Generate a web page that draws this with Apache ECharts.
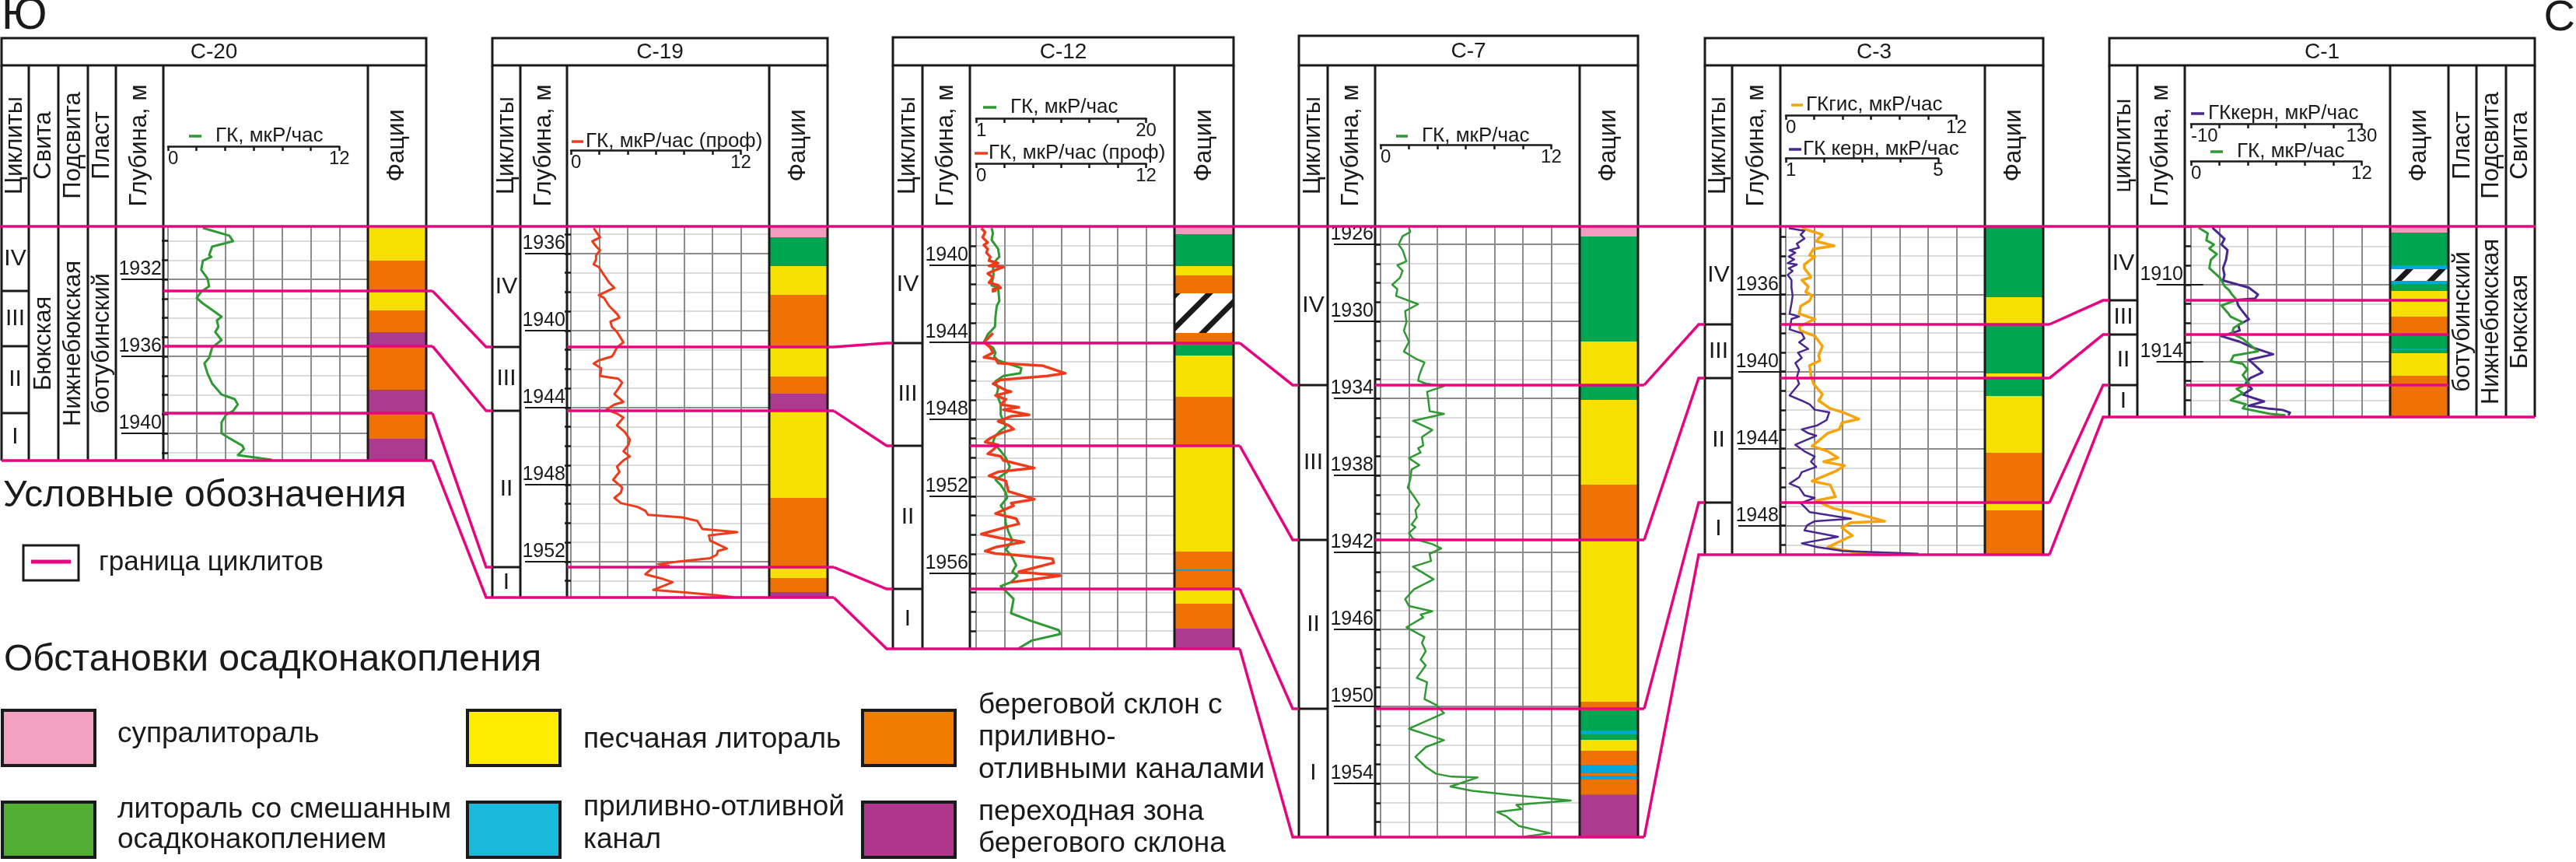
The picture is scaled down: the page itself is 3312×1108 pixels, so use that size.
<!DOCTYPE html>
<html><head><meta charset="utf-8">
<script src="https://cdn.jsdelivr.net/npm/echarts@6/dist/echarts.min.js"></script>
<style>html,body{margin:0;padding:0;background:#fff}#c{width:3312px;height:1108px}</style>
</head><body><div id="c"></div>
<script>
// ================= DATA =================
const wellNames = ['С-20','С-19','С-12','С-7','С-3','С-1'];
const depthTop    = [1929.25, 1934.59, 1937.98, 1925.07, 1932.46, 1906.97];
const depthBottom = [1941.41, 1953.86, 1959.92, 1956.79, 1949.51, 1916.87];
const depthLabels = [
  [1932,1936,1940],
  [1936,1940,1944,1948,1952],
  [1940,1944,1948,1952,1956],
  [1926,1930,1934,1938,1942,1946,1950,1954],
  [1936,1940,1944,1948],
  [1910,1914]
];
const cycliteNames = ['IV','III','II','I'];
const cycliteBounds = [
  [1932.60,1935.47,1938.95],
  [1940.85,1944.17,1952.29],
  [1944.04,1949.37,1956.81],
  [1933.31,1941.35,1950.12],
  [1937.55,1940.34,1946.80],
  [1910.81,1912.59,1915.21]
];
const svitaName = 'Бюкская', podsvitaName = 'Нижнебюкская', plastName = 'ботубинский';

// facies codes: S супралитораль, L литораль со смешанным, P песчаная литораль,
// T приливно-отливной канал, B береговой склон, Z переходная зона, H нет данных (штриховка)
const facies_C20 = [[1929.25,1931.03,'P'],[1931.03,1932.60,'B'],[1932.60,1933.61,'P'],[1933.61,1934.74,'B'],[1934.74,1935.47,'Z'],[1935.47,1937.73,'B'],[1937.73,1938.95,'Z'],[1938.95,1940.28,'B'],[1940.28,1941.41,'Z']];
const facies_C19 = [[1934.59,1935.16,'S'],[1935.16,1936.65,'L'],[1936.65,1938.15,'P'],[1938.15,1940.89,'B'],[1940.89,1942.39,'P'],[1942.39,1943.28,'B'],[1943.28,1944.13,'Z'],[1944.13,1948.69,'P'],[1948.69,1952.33,'B'],[1952.33,1952.85,'P'],[1952.85,1953.58,'B'],[1953.58,1953.86,'Z']];
const facies_C12 = [[1937.98,1938.38,'S'],[1938.38,1940.04,'L'],[1940.04,1940.53,'P'],[1940.53,1941.45,'B'],[1941.45,1943.52,'H'],[1943.52,1944.12,'B'],[1944.12,1944.69,'L'],[1944.69,1946.83,'P'],[1946.83,1949.37,'B'],[1949.37,1954.87,'P'],[1954.87,1955.80,'B'],[1955.80,1955.88,'T'],[1955.88,1956.81,'B'],[1956.81,1957.58,'P'],[1957.58,1958.87,'B'],[1958.87,1959.92,'Z']];
const facies_C7 = [[1925.07,1925.60,'S'],[1925.60,1931.05,'L'],[1931.05,1933.31,'P'],[1933.31,1934.08,'L'],[1934.08,1938.48,'P'],[1938.48,1941.35,'B'],[1941.35,1949.76,'P'],[1949.76,1950.20,'B'],[1950.20,1951.25,'L'],[1951.25,1951.45,'T'],[1951.45,1951.74,'L'],[1951.74,1952.30,'P'],[1952.30,1953.03,'B'],[1953.03,1953.47,'T'],[1953.47,1953.60,'B'],[1953.60,1953.80,'T'],[1953.80,1954.57,'B'],[1954.57,1956.79,'Z']];
const facies_C3 = [[1932.46,1936.14,'L'],[1936.14,1937.55,'P'],[1937.55,1940.10,'L'],[1940.10,1940.30,'P'],[1940.30,1941.27,'L'],[1941.27,1944.22,'P'],[1944.22,1946.80,'B'],[1946.80,1947.21,'P'],[1947.21,1949.51,'B']];
const facies_C1 = [[1906.97,1907.29,'S'],[1907.29,1908.99,'L'],[1908.99,1909.19,'T'],[1909.19,1909.80,'H'],[1909.80,1909.96,'T'],[1909.96,1910.32,'L'],[1910.32,1911.66,'P'],[1911.66,1912.59,'B'],[1912.59,1913.33,'L'],[1913.33,1913.39,'T'],[1913.39,1913.56,'L'],[1913.56,1914.73,'P'],[1914.73,1915.21,'B'],[1915.21,1915.27,'P'],[1915.27,1916.87,'B']];

// GR logs: [value, depth]
const gk_C20 = [[2.44,1929.33],[4.29,1929.73],[4.56,1930.02],[3.09,1930.30],[2.88,1930.74],[3.04,1930.83],[2.44,1931.03],[2.33,1931.51],[2.77,1931.96],[2.88,1932.36],[2.33,1932.64],[2.01,1932.97],[2.44,1933.25],[3.75,1933.94],[3.42,1934.14],[3.53,1934.46],[3.31,1934.74],[3.75,1935.15],[3.09,1935.55],[2.88,1936.08],[2.55,1936.36],[2.77,1936.89],[3.09,1937.41],[3.75,1937.98],[4.67,1938.22],[4.89,1938.50],[4.56,1938.83],[4.07,1939.03],[3.75,1939.43],[3.75,1940.00],[4.18,1940.20],[5.21,1940.64],[5.32,1940.81],[4.89,1941.13],[6.08,1941.25],[7.27,1941.37]];
const gkProf_C19 = [[1.61,1934.68],[2.06,1935.16],[1.51,1935.36],[1.78,1935.63],[2.06,1935.83],[1.78,1936.10],[1.78,1936.30],[1.61,1936.57],[1.97,1936.70],[2.33,1937.11],[2.70,1937.51],[3.07,1937.78],[1.97,1938.16],[2.33,1938.30],[2.70,1938.72],[3.25,1939.13],[3.43,1939.33],[2.79,1939.53],[2.89,1939.80],[3.25,1940.07],[3.71,1940.61],[3.25,1940.88],[3.07,1941.15],[2.89,1941.35],[1.97,1941.55],[1.61,1941.71],[2.15,1941.96],[2.06,1942.36],[3.34,1942.50],[3.62,1942.70],[3.34,1943.03],[3.07,1943.30],[3.71,1943.71],[3.07,1943.84],[2.52,1944.11],[3.25,1944.31],[3.71,1944.52],[3.25,1944.92],[3.80,1945.26],[4.16,1945.66],[4.07,1945.93],[3.71,1946.27],[4.16,1946.54],[3.71,1946.74],[3.25,1947.07],[3.43,1947.34],[2.98,1947.75],[3.62,1948.15],[3.53,1948.42],[3.07,1948.69],[3.53,1948.96],[4.71,1949.16],[5.26,1949.36],[5.44,1949.57],[6.54,1949.63],[7.82,1949.70],[8.92,1949.88],[9.28,1950.31],[11.74,1950.47],[9.74,1950.64],[9.83,1950.91],[11.01,1951.32],[10.38,1951.45],[10.29,1951.65],[9.83,1951.82],[7.63,1951.99],[6.17,1952.13],[6.90,1952.22],[5.81,1952.30],[5.26,1952.66],[6.36,1952.87],[7.18,1953.07],[5.81,1953.47],[8.20,1953.61],[10.22,1953.74],[11.41,1953.84]];
const gk_C12 = [[2.73,1938.07],[2.88,1938.34],[2.73,1938.68],[3.46,1939.15],[3.60,1939.56],[3.31,1939.69],[2.88,1939.96],[2.94,1940.50],[2.73,1941.04],[3.46,1941.17],[3.60,1941.85],[3.31,1942.11],[3.17,1942.65],[3.11,1943.19],[2.30,1943.59],[1.87,1944.00],[2.88,1944.27],[3.17,1944.54],[3.02,1944.74],[3.46,1944.94],[5.19,1945.21],[6.06,1945.34],[5.92,1945.61],[4.04,1945.75],[3.17,1946.02],[3.46,1946.42],[3.31,1946.69],[3.75,1947.23],[3.75,1947.77],[4.32,1948.38],[3.75,1948.58],[3.17,1948.85],[2.88,1949.18],[3.75,1949.65],[4.32,1949.99],[4.76,1950.46],[4.47,1950.73],[3.17,1951.14],[3.75,1951.41],[4.32,1951.81],[4.47,1952.08],[3.75,1952.48],[4.18,1952.75],[4.32,1953.43],[4.61,1953.83],[5.05,1954.30],[4.32,1954.77],[4.90,1955.04],[5.48,1955.58],[5.05,1955.92],[5.63,1956.12],[4.90,1956.46],[3.75,1956.66],[5.19,1957.33],[4.90,1958.07],[7.21,1958.48],[10.25,1958.95],[10.40,1959.15],[7.21,1959.49],[5.77,1959.89]];
const gkProf_C12 = [[0.37,1938.07],[0.64,1938.28],[0.46,1938.55],[0.82,1938.82],[0.55,1938.95],[0.82,1939.15],[0.73,1939.35],[1.00,1939.56],[0.91,1939.76],[1.55,1939.89],[0.91,1940.03],[1.92,1940.09],[1.19,1940.30],[0.82,1940.43],[1.19,1940.63],[0.91,1940.90],[1.55,1941.04],[1.74,1941.17],[1.19,1941.24],[1.37,1941.31],[1.10,1941.37],null,
  [1.19,1943.53],[0.55,1944.00],[1.00,1944.27],[1.19,1944.54],[0.55,1944.78],[1.37,1944.87],[1.55,1945.08],[4.66,1945.21],[6.30,1945.61],[5.02,1945.75],[1.74,1945.95],[1.19,1946.15],[2.10,1946.49],[2.47,1946.56],[1.37,1946.76],[2.10,1946.96],[1.74,1947.23],[3.01,1947.37],[1.92,1947.50],[3.74,1947.77],[2.47,1947.84],[1.55,1948.11],[2.28,1948.31],[2.65,1948.51],[1.74,1948.71],[1.00,1948.98],[0.64,1949.18],[1.55,1949.32],[1.19,1949.59],[0.82,1949.79],[1.74,1949.92],[1.92,1950.13],[4.11,1950.53],[1.55,1950.73],[0.91,1950.93],[2.10,1951.20],[2.28,1951.74],[4.11,1952.15],[2.47,1952.35],[2.65,1952.48],[1.37,1952.89],[2.83,1953.16],[3.01,1953.43],[2.28,1953.56],[0.37,1953.96],[1.74,1954.17],[3.38,1954.37],[1.37,1954.64],[0.64,1954.84],[1.37,1954.97],[2.65,1955.04],[5.39,1955.24],[5.48,1955.45],[3.01,1955.92],[5.94,1956.12],[3.93,1956.32],[2.47,1956.46]];
const gk_C7 = [[2.00,1925.15],[2.09,1925.36],[1.55,1925.58],[1.27,1926.01],[1.55,1926.30],[1.82,1926.88],[1.18,1927.09],[1.55,1927.38],[1.36,1927.74],[0.82,1928.10],[1.18,1928.32],[1.09,1928.68],[2.64,1929.11],[1.73,1929.47],[1.82,1930.05],[1.64,1930.48],[2.00,1931.06],[1.64,1931.57],[2.45,1931.93],[3.09,1932.14],[2.91,1932.43],[2.73,1932.79],[2.64,1933.08],[3.18,1933.23],[4.46,1933.37],[3.27,1933.66],[3.36,1934.09],[3.45,1934.67],[4.46,1934.81],[2.27,1935.17],[3.64,1935.64],[2.91,1936.01],[3.00,1936.45],[2.64,1936.59],[2.82,1936.81],[2.00,1937.11],[2.73,1937.47],[2.18,1937.69],[2.09,1938.20],[1.91,1938.64],[2.27,1939.01],[2.73,1939.52],[2.45,1939.81],[2.55,1940.18],[2.18,1940.55],[2.45,1940.69],[2.00,1940.99],[2.27,1941.28],[3.64,1941.57],[4.27,1941.79],[3.45,1942.08],[3.55,1942.45],[2.27,1942.74],[3.73,1943.40],[2.36,1943.91],[1.73,1944.43],[2.00,1944.79],[3.64,1945.06],[2.82,1945.23],[3.00,1945.38],[1.82,1945.89],[3.09,1946.40],[2.91,1946.70],[3.18,1947.13],[2.82,1947.57],[3.18,1947.87],[2.55,1948.52],[3.27,1948.74],[3.09,1949.62],[3.91,1949.92],[4.46,1950.35],[2.00,1951.16],[4.46,1951.75],[3.18,1952.11],[2.45,1952.62],[3.18,1953.14],[3.91,1953.50],[5.00,1953.65],[6.82,1953.69],[4.91,1954.16],[6.45,1954.38],[9.18,1954.60],[13.37,1954.89],[11.91,1954.97],[9.55,1955.11],[9.91,1955.33],[8.18,1955.48],[8.82,1955.70],[9.73,1956.21],[11.91,1956.58],[10.09,1956.77]];
const gkGis_C3 = [[1.13,1932.55],[2.58,1932.89],[2.13,1933.23],[3.40,1933.47],[1.95,1933.63],[1.67,1933.97],[2.04,1934.03],[1.31,1934.44],[1.31,1934.64],[1.67,1934.98],[1.76,1935.11],[1.13,1935.25],[1.58,1935.59],[1.40,1935.86],[1.85,1936.06],[1.67,1936.33],[1.04,1936.60],[0.95,1937.00],[2.04,1937.27],[0.95,1937.67],[1.04,1937.88],[2.04,1938.15],[2.58,1938.68],[2.31,1939.16],[2.40,1939.43],[1.67,1939.69],[1.76,1940.17],[1.95,1940.64],[2.58,1941.18],[2.31,1941.51],[3.13,1941.92],[4.04,1942.12],[5.13,1942.46],[3.95,1942.66],[3.76,1943.00],[2.95,1943.20],[1.85,1943.87],[2.95,1944.14],[3.67,1944.48],[2.67,1944.68],[4.13,1944.88],[3.58,1945.15],[1.85,1945.69],[3.13,1945.89],[3.49,1946.50],[2.13,1946.70],[3.31,1947.10],[4.58,1947.30],[6.95,1947.77],[4.58,1947.84],[3.95,1948.11],[4.67,1948.52],[2.95,1949.12],[3.86,1949.26],[4.95,1949.39],[7.49,1949.59]];
const gkKern_C3 = [[1.08,1932.55],[1.49,1932.69],[1.39,1932.89],[1.49,1933.09],[1.29,1933.36],[1.35,1933.56],[1.10,1933.70],[1.25,1933.83],[1.08,1934.03],[1.22,1934.17],[1.05,1934.37],[1.29,1934.44],[1.08,1934.64],[1.18,1934.77],[1.05,1934.98],[1.15,1935.25],[1.15,1935.65],[1.18,1936.06],[1.15,1936.46],[1.10,1937.00],[1.35,1937.14],[1.15,1937.27],[1.10,1937.81],[1.42,1938.01],[1.49,1938.28],[1.35,1938.48],[1.59,1938.82],[1.32,1939.02],[1.42,1939.29],[1.25,1939.56],[1.35,1939.90],[1.29,1940.30],[1.35,1940.64],[1.10,1941.24],[1.42,1941.51],[1.63,1941.71],[1.76,1941.98],[2.14,1942.12],[2.07,1942.52],[1.83,1942.79],[1.42,1943.00],[1.59,1943.20],[1.80,1943.33],[1.25,1943.80],[1.49,1944.14],[1.76,1944.41],[1.66,1944.68],[1.80,1944.95],[1.42,1945.22],[1.35,1945.49],[1.10,1945.82],[1.35,1946.02],[1.49,1946.43],[1.76,1946.56],[1.39,1946.83],[1.63,1947.30],[2.71,1947.64],[1.76,1947.77],[1.56,1947.98],[1.49,1948.25],[2.37,1948.58],[1.42,1948.92],[1.83,1949.12],[2.51,1949.32],[4.48,1949.46]];
const gkKern_C1 = [[7.52,1907.04],[13.78,1907.40],[17.49,1907.62],[15.00,1907.91],[19.98,1908.20],[18.77,1908.70],[16.27,1909.14],[17.49,1909.50],[16.27,1909.78],[24.97,1909.93],[37.50,1910.15],[44.98,1910.51],[42.49,1910.72],[27.46,1910.79],[28.74,1911.08],[31.23,1911.30],[37.50,1911.80],[28.74,1912.09],[29.96,1912.38],[15.00,1912.67],[29.96,1912.96],[39.99,1913.25],[57.45,1913.61],[37.50,1913.90],[48.69,1914.55],[38.72,1914.84],[35.00,1915.12],[39.99,1915.41],[32.45,1915.70],[49.97,1916.06],[37.50,1916.28],[52.46,1916.42],[64.93,1916.50],[71.20,1916.64],[69.90,1916.78]];
const gk_C1 = [[0.54,1907.04],[1.18,1907.33],[1.08,1907.69],[1.61,1907.91],[1.29,1908.12],[1.82,1908.41],[1.40,1908.70],[1.29,1909.14],[2.04,1909.64],[2.36,1910.07],[2.68,1910.29],[2.89,1910.51],[3.21,1910.79],[2.14,1911.08],[2.57,1911.44],[2.79,1911.66],[3.64,1911.95],[3.00,1912.24],[2.89,1912.53],[3.64,1912.81],[4.71,1913.46],[3.00,1913.68],[2.79,1913.97],[3.64,1914.11],[3.96,1914.40],[3.64,1914.69],[4.07,1915.12],[3.21,1915.41],[3.64,1915.63],[2.79,1915.99],[3.86,1916.21],[3.64,1916.42],[5.57,1916.71],[6.64,1916.78]];

// curve catalogue
const curveWell  = [0, 1, 2, 2, 3, 4, 4, 5, 5];
const curveData  = [gk_C20, gkProf_C19, gk_C12, gkProf_C12, gk_C7, gkGis_C3, gkKern_C3, gkKern_C1, gk_C1];
const curveLabel = ['ГК, мкР/час','ГК, мкР/час (проф)','ГК, мкР/час','ГК, мкР/час (проф)','ГК, мкР/час','ГКгис, мкР/час','ГК керн, мкР/час','ГКкерн, мкР/час','ГК, мкР/час'];
const curveMin   = [0, 0, 1, 0, 0, 0, 1, -10, 0];
const curveMax   = [12, 12, 20, 12, 12, 12, 5, 130, 12];
const ticks_0_12 = [0,2,4,6,8,10,12];
const ticks_1_20 = [1,4.1667,7.3333,10.5,13.6667,16.8333,20];
const ticks_1_5  = [1,2,3,4,5];
const ticks_m10_130 = [-10,13.333,36.667,60,83.333,106.667,130];
const curveTicks = [ticks_0_12, ticks_0_12, ticks_1_20, ticks_0_12, ticks_0_12, ticks_0_12, ticks_1_5, ticks_m10_130, ticks_0_12];

const legendItems = [
  ['S', ['супралитораль']],
  ['P', ['песчаная литораль']],
  ['B', ['береговой склон с','приливно-','отливными каналами']],
  ['L', ['литораль со смешанным','осадконакоплением']],
  ['T', ['приливно-отливной','канал']],
  ['Z', ['переходная зона','берегового склона']]
];

// ================= STYLE / LAYOUT =================
const FONT = '"Liberation Sans", Arial, Helvetica, sans-serif';
const INK = '#1a1a1a';
const PINK = '#e5067f';
const faciesColor = {S:'#f29cbf', L:'#00a551', P:'#f8e100', T:'#00a7d8', B:'#ee7203', Z:'#ad3a8c'};
const legendColor = {S:'#f2a1c1', L:'#52ae32', P:'#ffed00', T:'#19b9dc', B:'#f07d00', Z:'#ae378b'};
const curveColor = ['#2f9a33','#ee3b1c','#2f9a33','#ee3b1c','#2f9a33','#f7a30c','#48278f','#48278f','#2f9a33'];
const curveWidth = [3, 3, 3, 3.5, 2.5, 3.5, 2.5, 3, 3];
const PX_PER_M = 24.75, TOP_Y = 291, HEAD_DIV = 84;
const wellLayout = [
  {left:2,    right:548,  headTop:49, gap:6, cols:[['cyc',2,37],['svita',37,75],['podsvita',75,113],['plast',113,149],['depth',149,210],['log',210,473],['facies',473,548]]},
  {left:633,  right:1064, headTop:49, gap:5, cols:[['cyc',633,669],['depth',669,729],['log',729,989],['facies',989,1064]]},
  {left:1148, right:1586, headTop:48, gap:8, cols:[['cyc',1148,1186],['depth',1186,1247],['log',1247,1510],['facies',1510,1586]]},
  {left:1670, right:2106, headTop:46, gap:7, cols:[['cyc',1670,1707],['depth',1707,1768],['log',1768,2031],['facies',2031,2106]]},
  {left:2192, right:2627, headTop:49, gap:7, cols:[['cyc',2192,2227],['depth',2227,2289],['log',2289,2552],['facies',2552,2627]]},
  {left:2712, right:3259, headTop:49, gap:8, cols:[['cyc',2712,2748],['depth',2748,2809],['log',2809,3073],['facies',3073,3148],['plast',3148,3184],['podsvita',3184,3222],['svita',3222,3259]]}
];
const curveHead = [
  {axisY:188, dash:[243,259],   textX:277,  textY:175},
  {axisY:193, dash:[735,750],   textX:753,  textY:182},
  {axisY:152, dash:[1264,1281], textX:1299, textY:138},
  {axisY:210, dash:[1253,1270], textX:1271, textY:197},
  {axisY:186, dash:[1795,1810], textX:1828, textY:175},
  {axisY:148, dash:[2303,2318], textX:2322, textY:135},
  {axisY:203, dash:[2300,2316], textX:2318, textY:192, span:196},
  {axisY:159, dash:[2817,2834], textX:2839, textY:146},
  {axisY:207, dash:[2842,2858], textX:2876, textY:195}
];
const headText = {cyc:'Циклиты', depth:'Глубина, м', facies:'Фации', svita:'Свита', podsvita:'Подсвита', plast:'Пласт'};
const bodyText = {svita:svitaName, podsvita:podsvitaName, plast:plastName};
const faciesData = [facies_C20, facies_C19, facies_C12, facies_C7, facies_C3, facies_C1];

function hatchPattern(){
  const s = 42, c = document.createElement('canvas'); c.width = s; c.height = s;
  const ctx = c.getContext('2d');
  ctx.fillStyle = '#fff'; ctx.fillRect(0,0,s,s);
  ctx.strokeStyle = INK; ctx.lineWidth = 7;
  ctx.beginPath();
  ctx.moveTo(-6, s+6); ctx.lineTo(s+6, -6);
  ctx.moveTo(-6, 6); ctx.lineTo(6, -6);
  ctx.moveTo(s-6, s+6); ctx.lineTo(s+6, s-6);
  ctx.stroke();
  return {image:c, repeat:'repeat'};
}
const HATCH = hatchPattern();

// ================= BUILD =================
const chart = echarts.init(document.getElementById('c'), null, {width:3312, height:1108});
const grids = [], xAxes = [], yAxes = [], series = [];
const wellY = [];
const wellGridL = [], wellGridW = [], wellGrid = [];
function col(W, n){ return W.cols.find(c => c[0] === n); }

wellLayout.forEach((W, i) => {
  const logC = col(W,'log'), facC = col(W,'facies'), depC = col(W,'depth');
  const gL = logC[1] + W.gap, gW = facC[1] - gL;
  const h = (depthBottom[i] - depthTop[i]) * PX_PER_M;
  wellGridL.push(gL); wellGridW.push(gW);
  grids.push({left:gL, top:TOP_Y, width:gW, height:h});
  const gi = grids.length - 1;
  wellGrid.push(gi);
  xAxes.push({gridIndex:gi, type:'value', min:0, max:14, interval:2,
    axisLine:{show:false}, axisTick:{show:false}, axisLabel:{show:false},
    splitLine:{show:true, lineStyle:{color:'#8c8c8c', width:2}}});
  const ints = [];
  for (let d = Math.ceil(depthTop[i]); d <= depthBottom[i]; d++) ints.push(d);
  yAxes.push({gridIndex:gi, type:'value', inverse:true, min:depthTop[i], max:depthBottom[i], position:'left', offset:W.gap,
    axisLine:{show:false}, axisTick:{show:true, customValues:ints, length:8, lineStyle:{color:INK, width:2.5}},
    axisLabel:{show:false}, splitLine:{show:true, lineStyle:{color:'#dcdcdc', width:2}}});
  wellY.push(yAxes.length - 1);
  yAxes.push({gridIndex:gi, type:'value', inverse:true, min:depthTop[i], max:depthBottom[i], position:'left', offset:W.gap,
    axisLine:{show:false},
    axisTick:{show:true, customValues:depthLabels[i], length:logC[1]-depC[1]-1, lineStyle:{color:INK, width:2}},
    axisLabel:{show:true, customValues:depthLabels[i], margin:2, verticalAlign:'bottom', align:'right', fontSize:25, fontFamily:FONT, color:INK,
      formatter: v => String(Math.round(v))},
    splitLine:{show:true, lineStyle:{color:'#8c8c8c', width:2}}});

  grids.push({left:facC[1], top:TOP_Y, width:facC[2]-facC[1], height:h});
  const fg = grids.length - 1;
  xAxes.push({gridIndex:fg, type:'value', min:0, max:1, show:false});
  yAxes.push({gridIndex:fg, type:'value', inverse:true, min:depthTop[i], max:depthBottom[i], show:false});
  const fac = faciesData[i];
  series.push({type:'custom', xAxisIndex:xAxes.length-1, yAxisIndex:yAxes.length-1, clip:true, silent:true,
    data: fac.map(f => [f[0], f[1]]),
    encode:{y:[0,1]},
    renderItem:(params, api) => {
      const p0 = api.coord([0, api.value(0)]), p1 = api.coord([1, api.value(1)]);
      const code = fac[params.dataIndex][2];
      return {type:'rect', shape:{x:p0[0], y:p0[1], width:p1[0]-p0[0], height:p1[1]-p0[1]+0.6},
        style:{fill: code === 'H' ? HATCH : faciesColor[code], stroke:null}};
    }});
});

curveData.forEach((data, k) => {
  const i = curveWell[k], hd = curveHead[k];
  const gW = wellGridW[i];
  const spanPx = hd.span || gW * 12 / 14;
  const dataMax = curveMin[k] + (curveMax[k] - curveMin[k]) * gW / spanPx;
  xAxes.push({gridIndex: wellGrid[i], type:'value', min:curveMin[k], max:dataMax, show:false});
  const xi = xAxes.length - 1;
  series.push({type:'line', xAxisIndex:xi, yAxisIndex:wellY[i], data:data, showSymbol:false, symbol:'none',
    connectNulls:false, clip:true, silent:true, z:5,
    lineStyle:{color:curveColor[k], width:curveWidth[k], join:'round'}});
  grids.push({left:wellGridL[i], top:hd.axisY-1, width:spanPx, height:1});
  const hg = grids.length - 1;
  xAxes.push({gridIndex:hg, type:'value', min:curveMin[k], max:curveMax[k], position:'bottom',
    axisLine:{show:true, lineStyle:{color:INK, width:2.5}},
    axisTick:{show:true, customValues:curveTicks[k], length:6, lineStyle:{color:INK, width:2.5}},
    axisLabel:{show:true, customValues:[curveMin[k], curveMax[k]], margin:4, fontSize:24, fontFamily:FONT, color:INK,
      alignMinLabel:'left', formatter: v => String(v)},
    splitLine:{show:false}});
  yAxes.push({gridIndex:hg, type:'value', show:false});
});

chart.setOption({animation:false, backgroundColor:'#fff', grid:grids, xAxis:xAxes, yAxis:yAxes, series:series});

// ================= GRAPHIC OVERLAY =================
const G = [];
function line(x1,y1,x2,y2,stroke,w,z){ G.push({type:'line', z:z||50, silent:true, shape:{x1,y1,x2,y2}, style:{stroke, lineWidth:w}}); }
function poly(points,stroke,w,z){ G.push({type:'polyline', z:z||60, silent:true, shape:{points}, style:{stroke, lineWidth:w, fill:null, lineJoin:'miter'}}); }
function rect(x,y,w,h,fill,stroke,lw,z){ G.push({type:'rect', z:z||50, silent:true, shape:{x,y,width:w,height:h}, style:{fill:fill||'none', stroke:stroke||null, lineWidth:lw||0}}); }
function text(x,y,s,size,o){ o = o || {};
  G.push({type:'text', z:55, silent:true, x, y, rotation:o.rot||0,
    style:{text:s, fill:o.color||INK, font:size+'px '+FONT, align:o.align||'center', verticalAlign:o.va||'middle', textAlign:o.align||'center', textVerticalAlign:o.va||'middle'}}); }
const yPix = (i, d) => chart.convertToPixel({yAxisIndex: wellY[i]}, d);

wellLayout.forEach((W, i) => {
  const top = yPix(i, depthTop[i]), bot = yPix(i, depthBottom[i]);
  rect(W.left, W.headTop, W.right - W.left, HEAD_DIV - W.headTop, 'none', INK, 3);
  text((W.left + W.right)/2, (W.headTop + HEAD_DIV)/2 + 1, wellNames[i], 28);
  const xs = [W.left].concat(W.cols.map(c => c[2]));
  xs.forEach(x => line(x, HEAD_DIV, x, bot, INK, 3));
  W.cols.forEach(c => {
    const cx = (c[1] + c[2]) / 2;
    if (headText[c[0]]) {
      let s = headText[c[0]];
      if (c[0] === 'cyc' && i === 5) s = 'циклиты';
      text(cx, 187, s, 31, {rot: Math.PI/2});
    }
    if (bodyText[c[0]]) text(cx, (top + bot)/2, bodyText[c[0]], 31, {rot: Math.PI/2});
  });
  const cyc = col(W, 'cyc');
  const edges = [depthTop[i]].concat(cycliteBounds[i]).concat([depthBottom[i]]);
  cycliteBounds[i].forEach(b => line(cyc[1], yPix(i,b), cyc[2], yPix(i,b), INK, 3));
  for (let j = 0; j < 4; j++) {
    text((cyc[1]+cyc[2])/2, (yPix(i,edges[j]) + yPix(i,edges[j+1]))/2, cycliteNames[j], 30);
  }
  const logC = col(W,'log'), facC = col(W,'facies');
  const last = i === wellLayout.length - 1;
  const rEnd = last ? facC[2] : W.right + 8;
  cycliteBounds[i].forEach(b => poly([[logC[1], yPix(i,b)], [rEnd, yPix(i,b)]], PINK, 3.5));
  poly([[W.left, bot], [last ? W.right : W.right + 8, bot]], PINK, 3.5);
  if (!last) {
    const N = wellLayout[i+1];
    const pairs = cycliteBounds[i].map((b, j) => [b, cycliteBounds[i+1][j]]).concat([[depthBottom[i], depthBottom[i+1]]]);
    pairs.forEach(p => {
      const y1 = yPix(i, p[0]), y2 = yPix(i+1, p[1]);
      poly([[W.right + 8, y1], [N.left - 8, y2], [N.left, y2]], PINK, 3.5);
    });
  }
});
poly([[0, yPix(0, depthTop[0])], [wellLayout[5].right + 1, yPix(0, depthTop[0])]], PINK, 3.5);

curveHead.forEach((hd, k) => {
  line(hd.dash[0], hd.textY, hd.dash[1], hd.textY, curveColor[k], 3.5, 55);
  text(hd.textX, hd.textY, curveLabel[k], 26, {align:'left'});
});

text(2, 21, 'Ю', 58, {align:'left'});
text(3311, 24, 'С', 56, {align:'right'});

text(4, 638, 'Условные обозначения', 48, {align:'left'});
rect(30, 701, 71, 45, 'none', INK, 3);
line(40, 722, 91, 722, PINK, 5, 56);
text(127, 723, 'граница циклитов', 35, {align:'left'});
text(5, 849, 'Обстановки осадконакопления', 48, {align:'left'});
const legX = [3, 601, 1109], legTextX = [151, 750, 1258], legY = [913, 1031], legH = 71, legW = 119;
const legLineY = [[944], [951], [907, 948, 990], [1041, 1080], [1038, 1080], [1044, 1085]];
legendItems.forEach((it, n) => {
  const cI = n % 3, rI = Math.floor(n / 3);
  rect(legX[cI], legY[rI], legW, legH, legendColor[it[0]], INK, 4);
  it[1].forEach((s, m) => text(legTextX[cI], legLineY[n][m], s, 37, {align:'left'}));
});

chart.setOption({graphic:{elements:G}});
</script>
</body></html>
